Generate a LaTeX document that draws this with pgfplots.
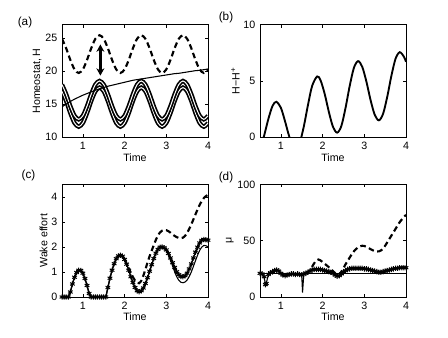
\documentclass[border=0pt]{standalone}
\usepackage{fontspec}
\setmainfont{Liberation Sans}
\usepackage{pgfplots}
\usepackage{pgfplotstable}
\pgfplotsset{compat=1.18}
\usetikzlibrary{arrows.meta}

% panel (a): upper/lower thresholds (U, L), dashed H, thin rising curve S
\pgfplotstableread{
t U L D S
0.5 17.95 16.94 24.86 14.6
0.6 16.50 15.46 23.43 15.0
0.7 14.70 13.64 21.67 15.4
0.8 13.25 12.16 20.24 15.75
0.9 12.70 11.60 19.70 16.05
1.0 13.25 12.16 20.24 16.35
1.1 14.70 13.64 21.67 16.6
1.2 16.50 15.46 23.43 16.85
1.3 17.95 16.94 24.86 17.1
1.4 18.50 17.50 25.40 17.3
1.5 17.95 16.94 24.86 17.5
1.6 16.50 15.46 23.43 17.7
1.7 14.70 13.64 21.67 17.85
1.8 13.25 12.16 20.24 18.0
1.9 12.70 11.60 19.70 18.15
2.0 13.25 12.16 20.24 18.3
2.1 14.70 13.64 21.67 18.45
2.2 16.50 15.46 23.43 18.6
2.3 17.95 16.94 24.86 18.7
2.4 18.50 17.50 25.40 18.8
2.5 17.95 16.94 24.86 18.9
2.6 16.50 15.46 23.43 19.0
2.7 14.70 13.64 21.67 19.1
2.8 13.25 12.16 20.24 19.2
2.9 12.70 11.60 19.70 19.3
3.0 13.25 12.16 20.24 19.4
3.1 14.70 13.64 21.67 19.5
3.2 16.50 15.46 23.43 19.6
3.3 17.95 16.94 24.86 19.65
3.4 18.50 17.50 25.40 19.75
3.5 17.95 16.94 24.86 19.85
3.6 16.50 15.46 23.43 19.95
3.7 14.70 13.64 21.67 20.05
3.8 13.25 12.16 20.24 20.1
3.9 12.70 11.60 19.70 20.2
4.0 13.25 12.16 20.24 20.3
}\tabA

% panel (c): starred and solid wake effort
\pgfplotstableread{
t star solid
0.5 0 0
0.55 0 0
0.6 0 0
0.65 0 0
0.7 0.2 0.2
0.75 0.52 0.52
0.8 0.79 0.79
0.85 0.98 0.98
0.9 1.07 1.07
0.95 1.06 1.06
1.0 0.95 0.95
1.05 0.74 0.74
1.1 0.46 0.46
1.15 0.14 0.14
1.2 0 0
1.25 0 0
1.3 0 0
1.35 0 0
1.4 0 0
1.45 0 0
1.5 0 0
1.55 0 0
1.6 0.38 0.38
1.65 0.75 0.75
1.7 1.07 1.07
1.75 1.33 1.33
1.8 1.53 1.53
1.85 1.64 1.64
1.9 1.67 1.67
1.95 1.63 1.63
2.0 1.5 1.5
2.05 1.31 1.31
2.1 1.07 1.07
2.15 0.81 0.81
2.2 0.58 0.58
2.25 0.38 0.38
2.3 0.25 0.25
2.35 0.21 0.21
2.4 0.25 0.25
2.45 0.36 0.36
2.5 0.54 0.54
2.55 0.77 0.77
2.6 1.03 1.03
2.65 1.29 1.29
2.7 1.54 1.54
2.75 1.75 1.75
2.8 1.9 1.9
2.85 1.99 1.99
2.9 2.0 2.0
2.95 1.97 1.96
3.0 1.88 1.85
3.05 1.74 1.68
3.1 1.56 1.47
3.15 1.37 1.24
3.2 1.18 1.01
3.25 1.01 0.81
3.3 0.89 0.67
3.35 0.82 0.59
3.4 0.81 0.57
3.45 0.85 0.6
3.5 0.95 0.68
3.55 1.12 0.82
3.6 1.32 1.0
3.65 1.56 1.22
3.7 1.79 1.45
3.75 1.99 1.67
3.8 2.16 1.86
3.85 2.26 1.99
3.9 2.3 2.06
3.95 2.29 2.05
4.0 2.27 2.0
}\tabC

% panel (d): starred mu
\pgfplotstableread{
t star
0.5 21
0.55 20.5
0.6 18
0.63 11
0.65 12
0.7 20
0.75 21.5
0.8 22.5
0.85 23.5
0.9 24
0.95 23
1.0 21
1.05 19.5
1.1 19
1.15 19.5
1.2 20
1.25 20.5
1.3 20.5
1.35 20
1.4 20.5
1.45 20
1.5 19.5
1.55 20.5
1.6 21
1.65 22
1.7 23
1.75 24
1.8 24.5
1.85 24.5
1.9 24.5
1.95 24.5
2.0 24
2.05 23.5
2.1 23
2.15 22.5
2.2 22
2.25 21
2.3 19.5
2.35 18.5
2.4 19
2.45 20.5
2.5 22
2.55 23.5
2.6 24.5
2.65 25
2.7 25.5
2.75 25.5
2.8 25.5
2.85 25.5
2.9 25.5
2.95 25.5
3.0 25
3.05 25
3.1 24.5
3.15 24
3.2 23.5
3.25 23
3.3 22.5
3.35 22
3.4 22
3.45 22.5
3.5 23
3.55 23.5
3.6 24
3.65 24.5
3.7 25
3.75 25.5
3.8 25.5
3.85 26
3.9 26
3.95 26
4.0 26
}\tabD

\pgfplotsset{
  panel/.style={
    scale only axis, width=109.5pt, height=84.5pt, anchor=south west,
    xmin=0.5, xmax=4, xtick={1,2,3,4}, xlabel={Time},
    tick align=inside, major tick length=2.2pt,
    axis line style={line width=0.6pt}, tick style={black, line width=0.5pt},
    /pgf/number format/assume math mode=true,
    font=\fontsize{8}{9.5}\selectfont,
    xlabel style={yshift=4pt}, ylabel style={yshift=-4pt},
  },
  dsh/.style={black, line width=1.6pt, dash pattern=on 4.2pt off 2.6pt},
  mystar/.style={black, line width=1pt, mark=asterisk, mark size=2pt,
    mark options={solid, line width=0.75pt}},
  dbl/.style={black, line width=1.25pt, double=white, double distance=0.75pt, smooth},
}

\begin{document}
\begin{tikzpicture}
\path[use as bounding box] (0pt,0pt) rectangle (336pt,252.75pt);

% (a)
\begin{axis}[panel, at={(46.5pt,149.8pt)}, ymin=10, ymax=27,
  ytick={10,15,20,25}, ylabel={Homeostat, H}]
\addplot[dsh, smooth] table[x=t, y=D] {\tabA};
\addplot[dbl] table[x=t, y=L] {\tabA};
\addplot[dbl] table[x=t, y=U] {\tabA};
\addplot[black, line width=0.8pt, smooth] table[x=t, y=S] {\tabA};
\draw[{Stealth[length=5.5pt,width=6pt]}-{Stealth[length=5.5pt,width=6pt]}, line width=1.9pt]
  (axis cs:1.42,19.3) -- (axis cs:1.42,24.0);
\end{axis}

% (b)
\begin{axis}[panel, at={(195pt,149.8pt)}, ymin=0, ymax=10,
  ytick={0,5,10}, ylabel={H−H\textsuperscript{+}}]
\addplot[black, line width=1.4pt, smooth] coordinates {
(0.5,-1.03) (0.6,0.16) (0.7,1.62) (0.8,2.78) (0.89,3.15) (1.0,2.62) (1.1,1.42)
(1.2,0.08) (1.3,-0.83) (1.36,-1.0) (1.45,-0.52) (1.55,0.95) (1.65,2.87) (1.75,4.56)
(1.87,5.4) (1.95,5.07) (2.05,3.86) (2.15,2.26) (2.25,0.92) (2.35,0.41) (2.45,1.0)
(2.55,2.6) (2.65,4.55) (2.75,6.15) (2.85,6.76) (2.95,6.26) (3.05,4.95) (3.15,3.31)
(3.25,2.0) (3.35,1.5) (3.45,2.08) (3.55,3.59) (3.65,5.46) (3.75,6.98) (3.85,7.55)
(3.95,7.15) (4.0,6.7)};
\end{axis}

% (c)
\begin{axis}[panel, at={(46.5pt,30pt)}, ymin=0, ymax=4.5,
  ytick={0,1,2,3,4}, ylabel={Wake effort}]
\addplot[black, line width=0.8pt, smooth] table[x=t, y=solid] {\tabC};
\addplot[dsh, smooth] coordinates {
(2.0,1.5) (2.05,1.33) (2.1,1.15) (2.15,0.97) (2.2,0.8) (2.25,0.66) (2.3,0.57)
(2.35,0.55) (2.4,0.65) (2.45,0.85) (2.5,1.1) (2.55,1.38) (2.6,1.63) (2.65,1.85)
(2.7,2.07) (2.75,2.28) (2.8,2.45) (2.85,2.58) (2.9,2.65) (2.95,2.68) (3.0,2.67)
(3.05,2.63) (3.1,2.57) (3.15,2.5) (3.2,2.44) (3.25,2.39) (3.3,2.36) (3.35,2.35)
(3.4,2.37) (3.45,2.44) (3.5,2.56) (3.55,2.72) (3.6,2.9) (3.65,3.1) (3.7,3.3)
(3.75,3.5) (3.8,3.68) (3.85,3.83) (3.9,3.95) (3.95,4.03) (4.0,4.08)};
\addplot[mystar] table[x=t, y=star] {\tabC};
\end{axis}

% (d)
\begin{axis}[panel, at={(195pt,30pt)}, ymin=0, ymax=100,
  ytick={0,50,100}, ylabel={μ}]
\addplot[black, line width=0.8pt] coordinates {(0.5,21) (4.0,21)};
\addplot[black, line width=0.8pt] coordinates {(1.5,19.5) (1.52,4) (1.55,20.5)};
\addplot[dsh, smooth] coordinates {
(1.6,21) (1.65,22) (1.7,24) (1.75,27) (1.8,30) (1.85,32.5) (1.9,33.3) (1.95,32.5)
(2.0,31) (2.05,29.5) (2.1,28) (2.15,26.5) (2.2,25) (2.25,23) (2.3,21) (2.35,19.5)
(2.4,20) (2.45,22.5) (2.5,25.5) (2.55,29) (2.6,32) (2.65,35) (2.7,38) (2.75,40.5)
(2.8,42.5) (2.85,44) (2.9,45) (2.95,45.5) (3.0,45.3) (3.05,44.5) (3.1,43.5)
(3.15,42.5) (3.2,41.5) (3.25,40.8) (3.3,40.4) (3.35,40.5) (3.4,41.3) (3.45,43)
(3.5,45.5) (3.55,48.5) (3.6,51.5) (3.65,54.5) (3.75,60.5) (3.85,66.5) (3.95,71) (4.0,73)};
\addplot[mystar, line width=0.8pt] table[x=t, y=star] {\tabD};
\end{axis}

\node[font=\fontsize{8.8}{10}\selectfont] at (18.75pt,235.9pt) {(a)};
\node[font=\fontsize{8.8}{10}\selectfont] at (169.5pt,240pt) {(b)};
\node[font=\fontsize{8.8}{10}\selectfont] at (21.4pt,121.1pt) {(c)};
\node[font=\fontsize{8.8}{10}\selectfont] at (169.5pt,120pt) {(d)};
\end{tikzpicture}
\end{document}
